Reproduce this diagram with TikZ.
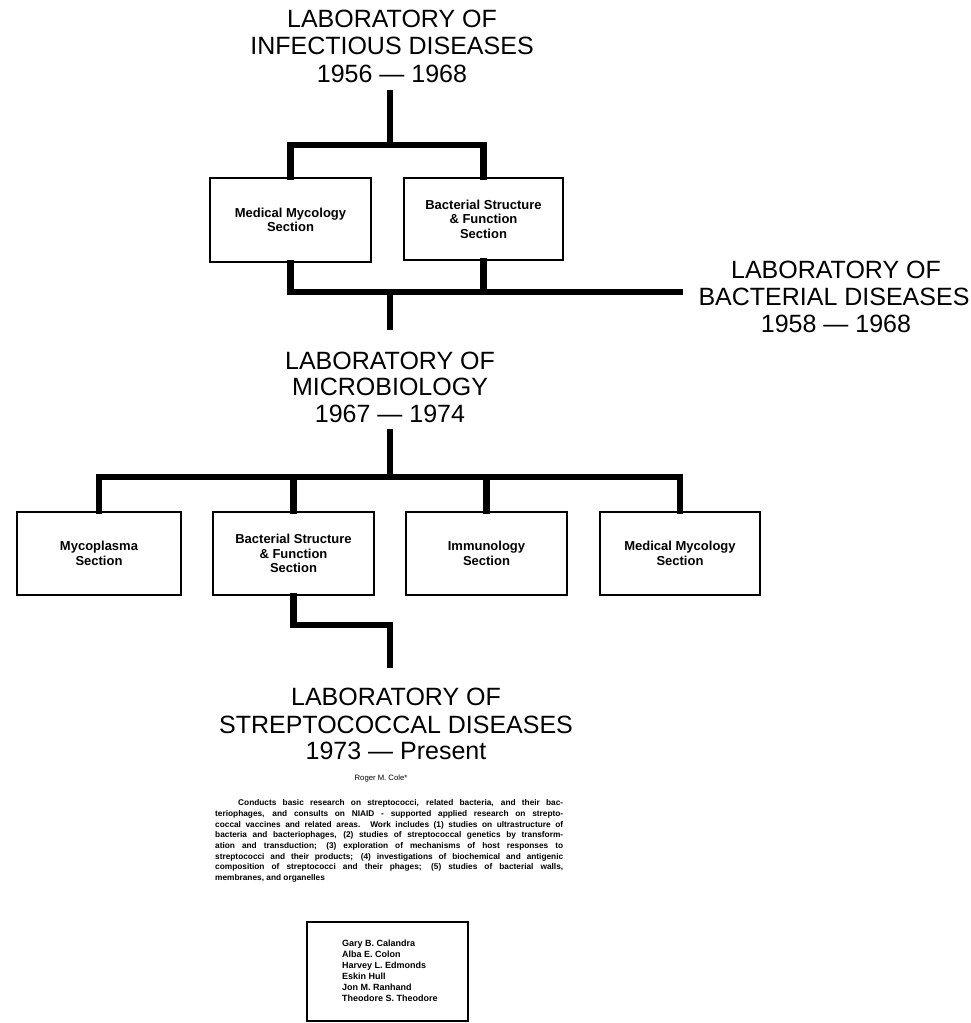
\documentclass[tikz,border=0pt]{standalone}
\usepackage{fontspec}
\setmainfont{Liberation Sans}
\begin{document}
\begin{tikzpicture}[x=1pt,y=-1pt,
  bar/.style={line width=6.5pt,line join=miter,line cap=rect},
  sect/.style={draw,line width=1.8pt,inner sep=0pt,align=center,
     font=\bfseries\fontsize{13}{14.5}\selectfont},
  ttl/.style={anchor=base,inner sep=0pt,font=\fontsize{25}{27}\selectfont}]
\useasboundingbox (0,0) rectangle (970,1023);
% top title
\node[ttl] (t1a) at (392,27) {LABORATORY OF};
\node[ttl] (t1b) at (392,54) {INFECTIOUS DISEASES};
\node[ttl] (t1c) at (392,82) {1956 — 1968};
% right title
\node[ttl] (t2a) at (836,278) {LABORATORY OF};
\node[ttl] (t2b) at (834,305) {BACTERIAL DISEASES};
\node[ttl] (t2c) at (836,332) {1958 — 1968};
% middle title
\node[ttl] (t3a) at (390,369) {LABORATORY OF};
\node[ttl] (t3b) at (390,395) {MICROBIOLOGY};
\node[ttl] (t3c) at (390,422) {1967 — 1974};
% bottom title
\node[ttl] (t4a) at (396,705) {LABORATORY OF};
\node[ttl] (t4b) at (396,733) {STREPTOCOCCAL DISEASES};
\node[ttl] (t4c) at (396,759) {1973 — Present};
% top boxes
\node[sect,minimum width=161pt,minimum height=84pt] (b1) at (290.5,220) {Medical Mycology\\Section};
\node[sect,minimum width=159pt,minimum height=82pt] (b2) at (483.5,219) {Bacterial Structure\\\& Function\\Section};
% row 2 boxes
\node[sect,minimum width=164pt,minimum height=83pt] (r1) at (99,553.5) {Mycoplasma\\Section};
\node[sect,minimum width=161pt,minimum height=83pt] (r2) at (293.5,553.5) {Bacterial Structure\\\& Function\\Section};
\node[sect,minimum width=161pt,minimum height=83pt] (r3) at (486.5,553.5) {Immunology\\Section};
\node[sect,minimum width=160pt,minimum height=83pt] (r4) at (680,553.5) {Medical Mycology\\Section};
% junction coordinates
\coordinate (c1) at (390,93);
\coordinate (c2) at (390,145);
\coordinate (c3) at (390,292);
\coordinate (c4) at (390,327);
\coordinate (c5) at (680,292);
\coordinate (c6) at (390,432);
\coordinate (c7) at (390,477);
\coordinate (c8) at (390,625);
\coordinate (c9) at (390,665);
% connectors, top tree
\draw[bar] (c1) -- (c2);
\draw[bar] (b1.north) -- (b1.north |- c2) -- (b2.north |- c2) -- (b2.north);
\draw[bar] (b1.south) -- (b1.south |- c3) -- (c5);
\draw[bar] (b2.south) -- (b2.south |- c3);
\draw[bar] (c3) -- (c4);
% connectors, middle tree
\draw[bar] (c6) -- (c7);
\draw[bar] (r1.north) -- (r1.north |- c7) -- (r4.north |- c7) -- (r4.north);
\draw[bar] (r2.north) -- (r2.north |- c7);
\draw[bar] (r3.north) -- (r3.north |- c7);
\draw[bar] (r2.south) -- (r2.south |- c8) -- (c8) -- (c9);
% director
\node[anchor=base,inner sep=0pt,font=\fontsize{7.7}{8}\selectfont] (dir) at (381,780) {Roger M. Cole*};
% description
\node[anchor=north west,inner sep=0pt,text width=348pt,align=justify,
  font=\bfseries\fontsize{8.3}{10.7}\selectfont] (desc) at (215,799.5)
{\parindent=23pt\indent Conducts basic research on streptococci, related bacteria, and their bac-\linebreak
teriophages, and consults on NIAID - supported applied research on strepto-\linebreak
coccal vaccines and related areas. Work includes (1) studies on ultrastructure of\linebreak
bacteria and bacteriophages, (2) studies of streptococcal genetics by transform-\linebreak
ation and transduction; (3) exploration of mechanisms of host responses to\linebreak
streptococci and their products; (4) investigations of biochemical and antigenic\linebreak
composition of streptococci and their phages; (5) studies of bacterial walls,\linebreak
membranes, and organelles};
% staff box
\node[draw,line width=1.8pt,minimum width=161pt,minimum height=99pt,inner sep=0pt] (staff) at (387.5,971.5) {};
\node[anchor=north west,inner sep=0pt,align=left,font=\bfseries\fontsize{9}{11}\selectfont] (names) at (342,939.5)
{Gary B. Calandra\\Alba E. Colon\\Harvey L. Edmonds\\Eskin Hull\\Jon M. Ranhand\\Theodore S. Theodore};
\end{tikzpicture}
\end{document}
